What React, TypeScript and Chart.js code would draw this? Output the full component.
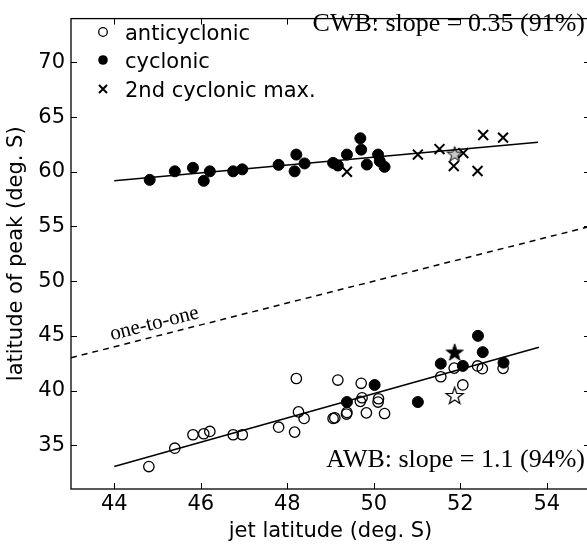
import React, { useEffect, useRef } from 'react';
import { Chart, registerables } from 'chart.js';

Chart.register(...registerables);

// ---------- data ----------
const xTickValues = [44, 46, 48, 50, 52, 54];
const yTickValues = [35, 40, 45, 50, 55, 60, 65, 70];

// CWB (upper cluster)
const cwbCycX = [44.82, 45.40, 45.82, 46.07, 46.21, 46.75, 46.96, 47.80, 48.21, 48.40, 48.17, 49.06, 49.17, 49.38, 49.69, 49.71, 49.84, 50.10, 50.14, 50.25];
const cwbCycY = [59.26, 60.04, 60.36, 59.17, 60.04, 60.04, 60.22, 60.63, 61.57, 60.76, 60.04, 60.81, 60.57, 61.57, 63.06, 62.02, 60.66, 61.57, 60.97, 60.45];
const cwbSecondX = [49.38, 51.02, 51.52, 52.07, 51.85, 52.53, 52.99, 52.40];
const cwbSecondY = [60.00, 61.57, 62.07, 61.71, 60.52, 63.36, 63.12, 60.07];
const cwbStarX = [51.87];
const cwbStarY = [61.65];

// AWB (lower cluster)
const awbAntiX = [44.80, 45.40, 45.82, 46.07, 46.21, 46.75, 46.96, 47.80, 48.17, 48.21, 48.26, 48.39, 49.06, 49.10, 49.17, 49.37, 49.38, 49.71, 49.73, 49.69, 49.83, 50.11, 50.10, 50.25, 51.55, 51.86, 52.06, 52.40, 52.51, 52.99];
const awbAntiY = [33.05, 34.73, 35.96, 36.05, 36.26, 35.96, 35.96, 36.65, 36.20, 41.10, 38.05, 37.45, 37.45, 37.50, 40.96, 37.85, 38.00, 40.66, 39.34, 39.01, 37.96, 39.25, 38.95, 37.90, 41.26, 42.05, 40.51, 42.25, 42.00, 42.03];
const awbCycX = [49.38, 50.02, 51.02, 51.55, 52.06, 52.41, 52.52, 53.00];
const awbCycY = [38.95, 40.51, 38.95, 42.46, 42.25, 45.00, 43.51, 42.55];
const awbStarFilledX = [51.87];
const awbStarFilledY = [43.51];
const awbStarOpenX = [51.87];
const awbStarOpenY = [39.55];

// fitted lines and reference
const cwbFitX = [44.0, 53.8];
const cwbFitY = [59.17, 62.70];
const awbFitX = [44.0, 53.82];
const awbFitY = [33.05, 43.96];
const oneToOneX = [43, 55];
const oneToOneY = [43, 55];

const legendLabels = ['anticyclonic', 'cyclonic', '2nd cyclonic max.'];
const cwbText = 'CWB: slope = 0.35 (91%)';
const awbText = 'AWB: slope = 1.1 (94%)';
const oneToOneText = 'one-to-one';
const xTitle = 'jet latitude (deg. S)';
const yTitle = 'latitude of peak (deg. S)';

const X_MIN = 43, X_MAX = 55, Y_MIN = 31, Y_MAX = 74;

const pts = (xs: number[], ys: number[]) => xs.map((x, i) => ({ x, y: ys[i] }));

const SANS = '"DejaVu Sans", sans-serif';
const SERIF = '"Liberation Serif", serif';

function makeStar(r: number, fill: string, stroke: string, lw: number) {
  const size = Math.ceil(2 * r + 2 * lw + 4);
  const c = document.createElement('canvas');
  c.width = size;
  c.height = size;
  const ctx = c.getContext('2d')!;
  const cx = size / 2, cy = size / 2 + 0.8;
  ctx.beginPath();
  for (let i = 0; i < 10; i++) {
    const rad = i % 2 === 0 ? r : r * 0.4;
    const a = -Math.PI / 2 + (i * Math.PI) / 5;
    const px = cx + rad * Math.cos(a);
    const py = cy + rad * Math.sin(a);
    if (i === 0) ctx.moveTo(px, py); else ctx.lineTo(px, py);
  }
  ctx.closePath();
  ctx.fillStyle = fill;
  ctx.fill();
  ctx.lineWidth = lw;
  ctx.strokeStyle = stroke;
  ctx.lineJoin = 'miter';
  ctx.stroke();
  return c;
}

const framePlugin = {
  id: 'frameAndText',
  afterDraw(chart: any) {
    const { ctx, chartArea } = chart;
    const { left, right, top, bottom } = chartArea;
    const xs = chart.scales.x;
    const ys = chart.scales.y;
    ctx.save();
    ctx.strokeStyle = '#000';
    ctx.lineWidth = 1.3;
    ctx.strokeRect(left, top, right - left, bottom - top);
    const tl = 6;
    ctx.beginPath();
    xTickValues.forEach((v) => {
      const px = Math.round(xs.getPixelForValue(v)) + 0.5;
      ctx.moveTo(px, bottom); ctx.lineTo(px, bottom - tl);
      ctx.moveTo(px, top); ctx.lineTo(px, top + tl);
    });
    yTickValues.forEach((v) => {
      const py = Math.round(ys.getPixelForValue(v)) + 0.5;
      ctx.moveTo(left, py); ctx.lineTo(left + tl, py);
      ctx.moveTo(right, py); ctx.lineTo(right - tl, py);
    });
    ctx.lineWidth = 1;
    ctx.stroke();

    // legend
    const lx = 103;
    const ly = [32, 60, 89];
    ctx.lineWidth = 1.3;
    ctx.beginPath();
    ctx.arc(lx, ly[0], 4.3, 0, Math.PI * 2);
    ctx.stroke();
    ctx.beginPath();
    ctx.arc(lx, ly[1], 4.8, 0, Math.PI * 2);
    ctx.fillStyle = '#000';
    ctx.fill();
    ctx.lineWidth = 2;
    ctx.beginPath();
    ctx.moveTo(lx - 4, ly[2] - 4); ctx.lineTo(lx + 4, ly[2] + 4);
    ctx.moveTo(lx + 4, ly[2] - 4); ctx.lineTo(lx - 4, ly[2] + 4);
    ctx.stroke();
    ctx.fillStyle = '#000';
    ctx.font = `21px ${SANS}`;
    ctx.textAlign = 'left';
    ctx.textBaseline = 'alphabetic';
    const baselines = [40, 68, 97];
    legendLabels.forEach((t, i) => ctx.fillText(t, 125, baselines[i]));

    // annotations
    ctx.font = `26px ${SERIF}`;
    ctx.textAlign = 'right';
    ctx.fillText(cwbText, 585, 31);
    ctx.fillText(awbText, 585, 467);

    // one-to-one label along dashed line
    const p1x = xs.getPixelForValue(oneToOneX[0]);
    const p1y = ys.getPixelForValue(oneToOneY[0]);
    const p2x = xs.getPixelForValue(oneToOneX[1]);
    const p2y = ys.getPixelForValue(oneToOneY[1]);
    const ang = Math.atan2(p2y - p1y, p2x - p1x);
    const cx = xs.getPixelForValue(45.0);
    const cy = ys.getPixelForValue(45.0);
    ctx.translate(cx, cy);
    ctx.rotate(ang);
    ctx.font = `21px ${SERIF}`;
    ctx.textAlign = 'center';
    ctx.fillText(oneToOneText, 0, -7);
    ctx.restore();
  },
};

export default function App() {
  const ref = useRef<HTMLCanvasElement>(null);
  useEffect(() => {
    if (!ref.current) return;
    const starGray = makeStar(8, '#c8c8c8', '#000', 1);
    const starBlack = makeStar(9, '#000', '#000', 1);
    const starWhite = makeStar(9, '#fff', '#000', 1.2);

    const lineDs = (xs: number[], ys: number[], dash: number[] = []) => ({
      type: 'line' as const,
      data: pts(xs, ys),
      borderColor: '#000',
      borderWidth: 1.5,
      borderDash: dash,
      pointRadius: 0,
      showLine: true,
      fill: false,
    });

    const chart = new Chart(ref.current, {
      type: 'scatter',
      data: {
        datasets: [
          lineDs(oneToOneX, oneToOneY, [6, 5]),
          lineDs(cwbFitX, cwbFitY),
          lineDs(awbFitX, awbFitY),
          {
            data: pts(awbAntiX, awbAntiY),
            pointStyle: 'circle',
            pointRadius: 5.2,
            borderWidth: 1.3,
            borderColor: '#000',
            backgroundColor: 'rgba(0,0,0,0)',
          },
          {
            data: pts(awbCycX, awbCycY),
            pointStyle: 'circle',
            pointRadius: 5.5,
            borderWidth: 1,
            borderColor: '#000',
            backgroundColor: '#000',
          },
          {
            data: pts(cwbCycX, cwbCycY),
            pointStyle: 'circle',
            pointRadius: 5.5,
            borderWidth: 1,
            borderColor: '#000',
            backgroundColor: '#000',
          },
          {
            data: pts(cwbSecondX, cwbSecondY),
            pointStyle: 'crossRot',
            pointRadius: 7,
            borderWidth: 2,
            borderColor: '#000',
          },
          { data: pts(cwbStarX, cwbStarY), pointStyle: starGray as any, pointRadius: 8 },
          { data: pts(awbStarFilledX, awbStarFilledY), pointStyle: starBlack as any, pointRadius: 9 },
          { data: pts(awbStarOpenX, awbStarOpenY), pointStyle: starWhite as any, pointRadius: 9 },
        ] as any,
      },
      options: {
        animation: false,
        responsive: false,
        devicePixelRatio: 1,
        layout: { padding: { left: 0, right: 10, top: 10, bottom: 0 } },
        plugins: { legend: { display: false }, tooltip: { enabled: false } },
        scales: {
          x: {
            type: 'linear',
            min: X_MIN,
            max: X_MAX,
            afterBuildTicks: (s: any) => { s.ticks = xTickValues.map((v) => ({ value: v })); },
            afterFit: (s: any) => { s.height = 55; },
            grid: { display: false, drawTicks: false },
            border: { display: false },
            ticks: { color: '#000', font: { family: SANS, size: 21 }, padding: 3, maxRotation: 0 },
            title: { display: true, text: xTitle, color: '#000', font: { family: SANS, size: 21 }, padding: { top: 0, bottom: 0 } },
          },
          y: {
            type: 'linear',
            min: Y_MIN,
            max: Y_MAX,
            afterBuildTicks: (s: any) => { s.ticks = yTickValues.map((v) => ({ value: v })); },
            afterFit: (s: any) => { s.width = 71; },
            grid: { display: false, drawTicks: false },
            border: { display: false },
            ticks: { color: '#000', font: { family: SANS, size: 21 }, padding: 6 },
            title: { display: true, text: yTitle, color: '#000', font: { family: SANS, size: 21 }, padding: { top: 4, bottom: 0 } },
          },
        },
      },
      plugins: [framePlugin],
    } as any);
    return () => chart.destroy();
  }, []);

  return (
    <div style={{ position: 'absolute', left: 0, top: 0, width: 587, height: 544, overflow: 'hidden', background: '#fff' }}>
      <canvas ref={ref} width={600} height={544} style={{ display: 'block', width: 600, height: 544 }} />
    </div>
  );
}
